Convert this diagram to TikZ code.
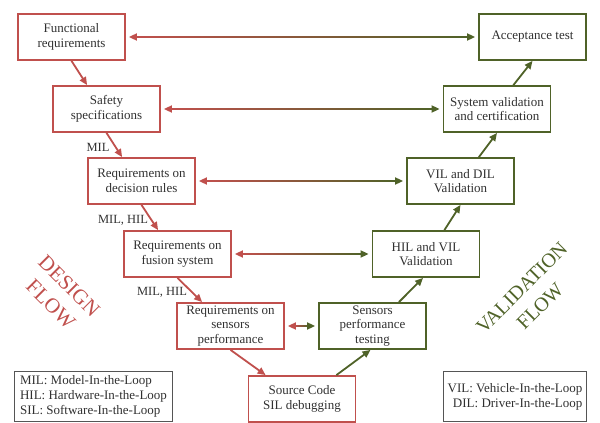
\documentclass[tikz,border=0pt]{standalone}
\usepackage{fontspec}
\setmainfont{Liberation Serif}
\usetikzlibrary{arrows.meta,calc}
\definecolor{dred}{HTML}{C0504D}
\definecolor{dgreen}{HTML}{4F6228}
\definecolor{txt}{HTML}{303030}
\definecolor{lgray}{HTML}{555555}
\newcommand\gradarrow[2]{%
  \path ([xshift=3pt]#1.east) coordinate (ga) ([xshift=-3pt]#2.west) coordinate (gb);
  \path ($(ga)+(7,0)$) coordinate (gc) ($(gb)+(-7,0)$) coordinate (gd);
  \shade[left color=dred, right color=dgreen] ($(gc)+(0,-0.85)$) rectangle ($(gd)+(0,0.85)$);
  \draw[dred, line width=1.7pt, {Triangle[length=8pt,width=7pt]}-] (ga) -- ($(gc)+(0.5,0)$);
  \draw[dgreen, line width=1.7pt, -{Triangle[length=8pt,width=7pt]}] ($(gd)+(-0.5,0)$) -- (gb);
}
\begin{document}
\begin{tikzpicture}[x=1pt,y=-1pt,
  rbox/.style={draw=dred, line width=1.8pt, minimum width=107pt, minimum height=46pt, align=center, text=txt, font=\fontsize{13}{14.5}\selectfont, inner sep=1pt},
  gbox/.style={rbox, draw=dgreen},
  rarr/.style={dred, line width=1.8pt, -{Triangle[length=8pt,width=7pt]}},
  garr/.style={dgreen, line width=1.8pt, -{Triangle[length=8pt,width=7pt]}},
  lab/.style={text=txt, font=\fontsize{12.5}{14}\selectfont, inner sep=0pt},
  legend/.style={draw=lgray, line width=1pt, text=txt, font=\fontsize{13}{15}\selectfont, inner sep=4pt}
]
\useasboundingbox (0,0) rectangle (600,423);

\node[rbox] (fr) at (71.5,37) {Functional\\requirements};
\node[rbox] (ss) at (106.5,109) {Safety\\specifications};
\node[rbox] (dr) at (141.5,181) {Requirements on\\decision rules};
\node[rbox] (fs) at (177.5,254) {Requirements on\\fusion system};
\node[rbox] (sr) at (230.5,326) {Requirements on\\sensors\\performance};
\node[rbox] (src) at (302,399) {Source Code\\SIL debugging};

\node[gbox] (st) at (372.5,326) {Sensors\\performance\\testing};
\node[gbox] (hv) at (426,254) {HIL and VIL\\Validation};
\node[gbox] (vd) at (460.5,181) {VIL and DIL\\Validation};
\node[gbox] (sv) at (497,109) {System validation\\and certification};
\node[gbox] (at) at (532.5,37) {Acceptance test};

\draw[rarr] (fr.south) -- ([xshift=35pt]ss.north west);
\draw[rarr] (ss.south) -- ([xshift=35pt]dr.north west);
\draw[rarr] (dr.south) -- ([xshift=35pt]fs.north west);
\draw[rarr] (fs.south) -- ([xshift=26pt]sr.north west);
\draw[rarr] (sr.south) -- ([xshift=18pt]src.north west);

\draw[garr] ([xshift=-20pt]src.north east) -- ([xshift=-2pt]st.south);
\draw[garr] ([xshift=-28pt]st.north east) -- ([xshift=-3pt]hv.south);
\draw[garr] ([xshift=-36pt]hv.north east) -- (vd.south);
\draw[garr] ([xshift=-36pt]vd.north east) -- (sv.south);
\draw[garr] ([xshift=-38pt]sv.north east) -- (at.south);

\gradarrow{fr}{at}
\gradarrow{ss}{sv}
\gradarrow{dr}{vd}
\gradarrow{fs}{hv}
\gradarrow{sr}{st}

\node[lab] (l1) at (98,147) {MIL};
\node[lab] (l2) at (123,220) {MIL, HIL};
\node[lab] (l3) at (162,292) {MIL, HIL};

\node[rotate=-45, text=dred, align=center, font=\fontsize{21}{26}\selectfont] (df) at (60,295) {DESIGN\\FLOW};
\node[rotate=45, text=dgreen, align=center, font=\fontsize{20}{26}\selectfont] (vf) at (531,297) {VALIDATION\\FLOW};

\node[legend, align=left, minimum width=158pt, minimum height=50pt, anchor=north west] (lg1) at (14,371) {MIL: Model-In-the-Loop\\HIL: Hardware-In-the-Loop\\SIL: Software-In-the-Loop};
\node[legend, align=right, minimum width=143pt, minimum height=50pt, anchor=north west] (lg2) at (443,371) {VIL: Vehicle-In-the-Loop\\DIL: Driver-In-the-Loop};
\end{tikzpicture}
\end{document}
